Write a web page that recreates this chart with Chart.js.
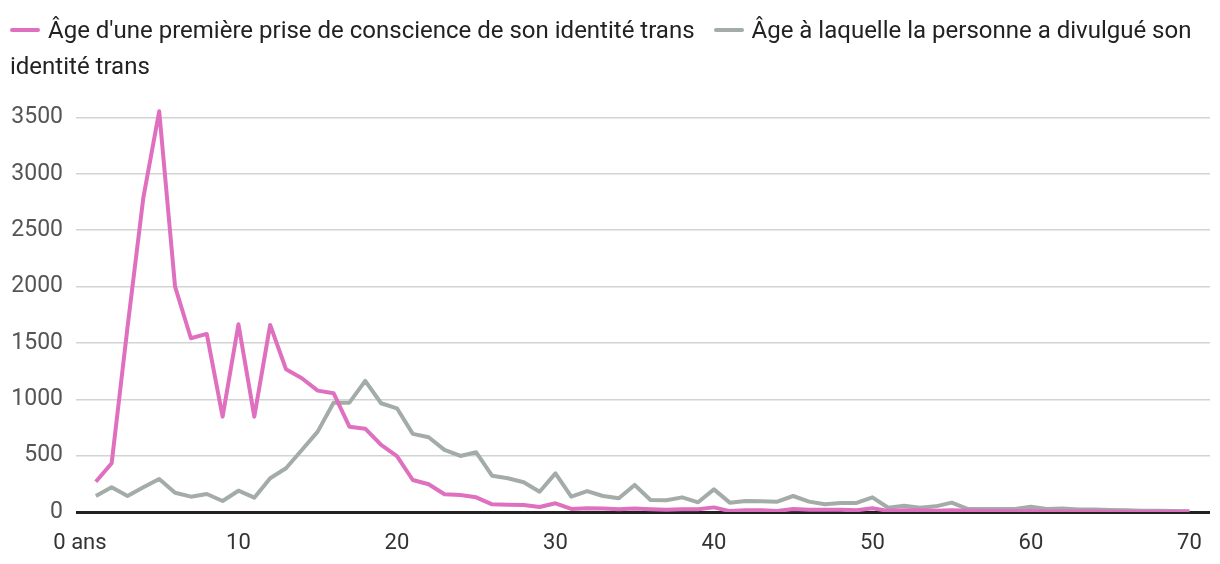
<!DOCTYPE html>
<html>
<head>
<meta charset="utf-8">
<script src="https://cdn.jsdelivr.net/npm/chart.js@4.4.1/dist/chart.umd.min.js"></script>
<style>
    body { margin: 0; background: #fff; }
    #wrap { position: relative; width: 1220px; height: 564px; }
    #legend {
        position: absolute; left: 10px; top: 12px; width: 1200px;
        font: 24px Roboto, sans-serif; line-height: 36px; color: #222;
    }
    #legend .item { margin-right: 19px; }
    #legend .mark {
        display: inline-block; width: 30px; height: 4px; border-radius: 2px;
        vertical-align: middle; margin-right: 8px; position: relative; top: -2px;
    }
</style>
</head>
<body>
<div id="wrap">
    <canvas id="lineChart" width="1220" height="564"></canvas>
    <div id="legend"></div>
</div>
<script>
// Ages 1..70
const ages = [];
for (let a = 1; a <= 70; a++) ages.push(a);

const seriesLabels = [
    "Âge d'une première prise de conscience de son identité trans",
    "Âge à laquelle la personne a divulgué son identité trans",
];

// Âge d'une première prise de conscience
const awareness = [
    269, 432, 1640, 2790, 3555, 2000, 1542, 1580, 846, 1666,
    846, 1660, 1267, 1187, 1077, 1054, 757, 739, 595, 495,
    284, 246, 157, 151, 130, 68, 65, 62, 44, 77,
    27, 33, 30, 24, 30, 24, 20, 24, 24, 41,
    8, 15, 15, 8, 27, 19, 19, 19, 15, 33,
    10, 15, 15, 12, 15, 10, 8, 8, 6, 8,
    5, 5, 4, 4, 3, 3, 2, 2, 2, 2,
];

// Âge de divulgation
const disclosure = [
    142, 219, 142, 219, 293, 171, 136, 160, 98, 189,
    127, 299, 388, 550, 713, 970, 970, 1163, 965, 920,
    693, 663, 551, 497, 530, 322, 299, 264, 180, 343,
    136, 186, 142, 122, 240, 107, 104, 130, 86, 201,
    83, 98, 95, 92, 142, 92, 68, 80, 80, 130,
    38, 56, 38, 50, 83, 27, 27, 27, 27, 47,
    27, 30, 22, 22, 18, 15, 12, 10, 8, 6,
];

const xTicks = [0, 10, 20, 30, 40, 50, 60, 70];
const yTicks = [0, 500, 1000, 1500, 2000, 2500, 3000, 3500];

const colors = ['#df6fbf', '#a3aca6'];

const toPoints = vals => ages.map((a, i) => ({ x: a, y: vals[i] }));

const ctx = document.getElementById('lineChart').getContext('2d');
const lineChart = new Chart(ctx, {
    type: 'line',
    data: {
        datasets: [
            {
                label: seriesLabels[0],
                data: toPoints(awareness),
                borderColor: colors[0],
                backgroundColor: colors[0],
                borderWidth: 4,
                borderJoinStyle: 'round',
                pointRadius: 0,
                tension: 0,
            },
            {
                label: seriesLabels[1],
                data: toPoints(disclosure),
                borderColor: colors[1],
                backgroundColor: colors[1],
                borderWidth: 4,
                borderJoinStyle: 'round',
                pointRadius: 0,
                tension: 0,
            },
        ],
    },
    options: {
        responsive: false,
        animation: false,
        layout: { padding: { top: 95, right: 10, left: 0, bottom: 0 } },
        plugins: {
            legend: { display: false }, // html legend below, it wraps text
            tooltip: { enabled: false },
        },
        scales: {
            x: {
                type: 'linear',
                min: -0.25,
                max: 71.3,
                grid: { display: false },
                border: { display: false },
                afterBuildTicks: scale => { scale.ticks = xTicks.map(v => ({ value: v })); },
                afterFit: scale => { scale.height = 52; },
                ticks: {
                    autoSkip: false,
                    maxRotation: 0,
                    padding: 10,
                    color: '#333',
                    font: { family: 'Roboto', size: 22 },
                    callback: v => v === 0 ? '0 ans' : String(v),
                },
            },
            y: {
                min: 0,
                max: 3700,
                border: { display: false },
                grid: {
                    drawTicks: false,
                    color: c => c.tick && c.tick.value === 0 ? '#222' : '#d3d3d3',
                    lineWidth: c => c.tick && c.tick.value === 0 ? 3 : 1.5,
                },
                afterBuildTicks: scale => { scale.ticks = yTicks.map(v => ({ value: v })); },
                afterFit: scale => { scale.width = 76; },
                ticks: {
                    padding: 13,
                    color: '#555',
                    font: { family: 'Roboto', size: 23 },
                    callback: v => String(v),
                },
            },
        },
    },
});

// legend built from the chart datasets
const legend = document.getElementById('legend');
legend.innerHTML = lineChart.data.datasets.map(ds =>
    '<span class="item"><span class="mark" style="background:' + ds.borderColor + '"></span>' + ds.label + '</span>'
).join('');
</script>
</body>
</html>
